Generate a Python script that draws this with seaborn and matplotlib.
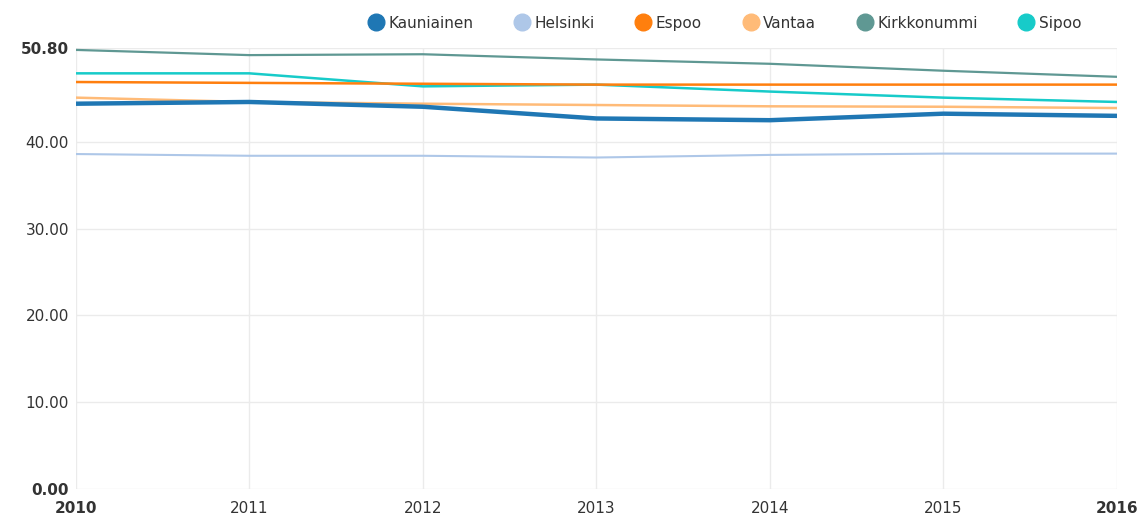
import pandas as pd
import seaborn as sns
import matplotlib.pyplot as plt
from matplotlib.lines import Line2D

years = [2010, 2011, 2012, 2013, 2014, 2015, 2016]
kauniainen = [44.4, 44.6, 44.05, 42.7, 42.5, 43.25, 43.0]
helsinki = [38.6, 38.4, 38.4, 38.2, 38.5, 38.65, 38.65]
espoo = [46.9, 46.8, 46.7, 46.6, 46.6, 46.6, 46.6]
vantaa = [45.1, 44.6, 44.4, 44.25, 44.1, 44.05, 43.9]
kirkkonummi = [50.6, 50.0, 50.1, 49.5, 49.0, 48.2, 47.5]
sipoo = [47.9, 47.9, 46.4, 46.6, 45.8, 45.1, 44.6]

names = ['Kauniainen', 'Helsinki', 'Espoo', 'Vantaa', 'Kirkkonummi', 'Sipoo']
colors = ['#1f77b4', '#aec7e8', '#ff7f0e', '#ffbb78', '#5f9893', '#17cbc9']
widths = [3.2, 1.5, 1.8, 1.8, 1.6, 1.8]
yticks = [0, 10, 20, 30, 40, 50.8]

series = [kauniainen, helsinki, espoo, vantaa, kirkkonummi, sipoo]
df = pd.DataFrame({'year': years * len(names),
                   'kunta': [n for n in names for _ in years],
                   'value': [v for s in series for v in s]})

sns.set_style('white')
plt.rcParams['font.family'] = ['DejaVu Sans']

fig = plt.figure(figsize=(11.48, 5.18), dpi=100)
ax = fig.add_axes([0.066, 0.056, 0.907, 0.851])

# thin lines first, thick one on top
for name, col, lw in list(zip(names, colors, widths))[::-1]:
    sns.lineplot(data=df[df['kunta'] == name], x='year', y='value',
                 color=col, linewidth=lw, ax=ax, legend=False)

ax.set_xlim(years[0], years[-1])
ax.set_ylim(0, 50.8)
ax.set_xticks(years)
ax.set_xticklabels([str(y) for y in years])
ax.set_yticks(yticks)
ax.set_yticklabels(['%.2f' % t for t in yticks])
for lbl in [ax.get_xticklabels()[0], ax.get_xticklabels()[-1],
            ax.get_yticklabels()[0], ax.get_yticklabels()[-1]]:
    lbl.set_fontweight('bold')
ax.tick_params(axis='both', labelsize=11, colors='#333333', length=0)
ax.tick_params(axis='y', pad=5)
ax.tick_params(axis='x', pad=9)
ax.grid(True, color='#ebebeb', linewidth=1)
for s in ax.spines.values():
    s.set_visible(False)
ax.set_xlabel('')
ax.set_ylabel('')

handles = [Line2D([], [], marker='o', linestyle='', color=c, markersize=12)
           for c in colors]
fig.legend(handles, names, loc='center', bbox_to_anchor=(0.628, 0.955), ncol=6,
           frameon=False, fontsize=11, handletextpad=-0.2, columnspacing=2.2,
           labelcolor='#333333')

plt.savefig('out.png', dpi=100)
plt.close()
